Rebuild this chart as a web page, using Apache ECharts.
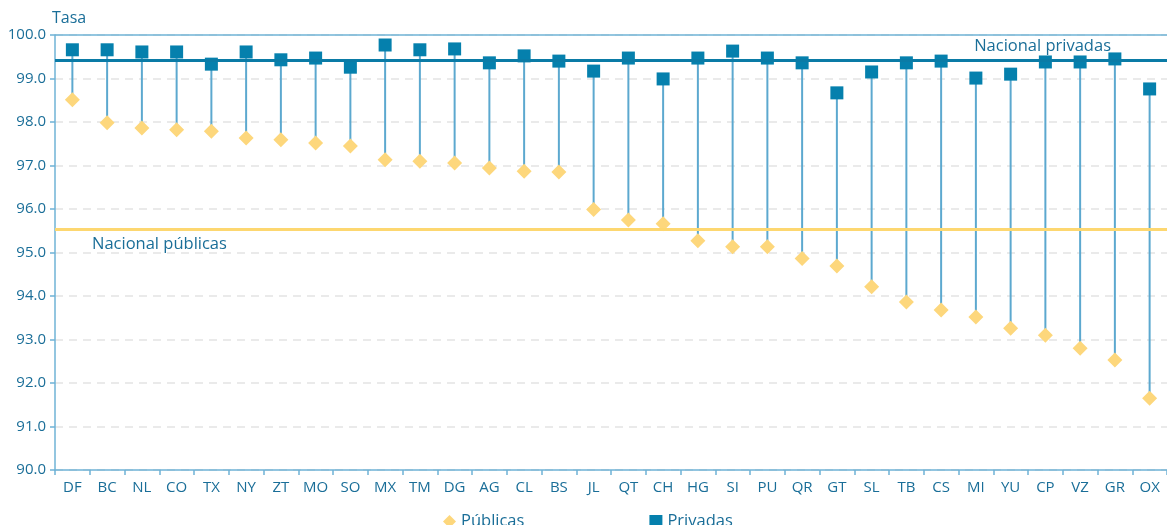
<!DOCTYPE html>
<html>
<head>
<meta charset="utf-8">
<script src="https://cdn.jsdelivr.net/npm/echarts@6/dist/echarts.min.js"></script>
<style>
  html, body { margin: 0; padding: 0; background: #fff; }
  #chart { width: 1167px; height: 525px; }
</style>
</head>
<body>
<div id="chart"></div>
<script>
// Entidades federativas
const categories = ['DF','BC','NL','CO','TX','NY','ZT','MO','SO','MX','TM','DG','AG','CL','BS','JL',
  'QT','CH','HG','SI','PU','QR','GT','SL','TB','CS','MI','YU','CP','VZ','GR','OX'];

// Tasa en escuelas públicas
const publicas = [98.51, 97.98, 97.86, 97.82, 97.79, 97.63, 97.59, 97.52, 97.45, 97.13, 97.10, 97.06,
  96.94, 96.87, 96.85, 95.99, 95.75, 95.66, 95.27, 95.13, 95.13, 94.86, 94.69, 94.21, 93.86, 93.68,
  93.52, 93.26, 93.10, 92.80, 92.53, 91.65];

// Tasa en escuelas privadas
const privadas = [99.66, 99.66, 99.61, 99.61, 99.33, 99.61, 99.43, 99.47, 99.26, 99.77, 99.66, 99.68,
  99.36, 99.52, 99.40, 99.17, 99.47, 98.99, 99.47, 99.63, 99.47, 99.36, 98.67, 99.15, 99.36, 99.40,
  99.01, 99.10, 99.38, 99.38, 99.45, 98.76];

// Promedios nacionales
const nacionalPrivadas = 99.43;
const nacionalPublicas = 95.54;

const yTicks = { min: 90, max: 100, interval: 1 };

const stemData = categories.map((c, i) => [i, privadas[i], publicas[i]]);

const fontFamily = '"Open Sans", "Noto Sans", sans-serif';
const textColor = '#1a6e98';
const axisColor = '#6fb3d6';

const chart = echarts.init(document.getElementById('chart'), null, { renderer: 'canvas' });
chart.setOption({
  animation: false,
  textStyle: { fontFamily: fontFamily },
  grid: { left: 55, top: 35, width: 1122, bottom: 55, containLabel: false },
  legend: {
    left: 438,
    top: 508,
    itemGap: 125,
    itemWidth: 13,
    itemHeight: 13,
    textStyle: { color: textColor, fontSize: 16.5, fontFamily: fontFamily },
    data: [
      { name: 'Públicas', icon: 'diamond' },
      { name: 'Privadas', icon: 'rect' }
    ]
  },
  xAxis: {
    type: 'category',
    data: categories,
    boundaryGap: true,
    axisLine: { lineStyle: { color: axisColor, width: 1.5 } },
    axisTick: { show: true, alignWithLabel: false, length: 5, lineStyle: { color: axisColor, width: 1.5 } },
    axisLabel: { color: textColor, fontSize: 15, margin: 10, interval: 0 }
  },
  yAxis: {
    type: 'value',
    name: 'Tasa',
    nameLocation: 'end',
    nameGap: 9,
    nameTextStyle: { color: textColor, fontSize: 16, align: 'left', padding: [0, 0, 0, -3] },
    min: yTicks.min,
    max: yTicks.max,
    interval: yTicks.interval,
    axisLine: { show: true, lineStyle: { color: axisColor, width: 1.5 } },
    axisTick: { show: true, length: 5, lineStyle: { color: axisColor, width: 1.5 } },
    axisLabel: {
      color: textColor, fontSize: 15, margin: 9,
      formatter: v => v.toFixed(1)
    },
    splitLine: { show: true, lineStyle: { color: '#e4e4e4', type: [8, 6], width: 1.5 } }
  },
  series: [
    {
      // Línea vertical entre las dos tasas de cada entidad
      type: 'custom',
      name: 'stems',
      z: 1,
      silent: true,
      data: stemData,
      encode: { x: 0, y: [1, 2] },
      renderItem: function (params, api) {
        const a = api.coord([api.value(0), api.value(1)]);
        const b = api.coord([api.value(0), api.value(2)]);
        return {
          type: 'line',
          shape: { x1: a[0], y1: a[1], x2: b[0], y2: b[1] },
          style: { stroke: '#5ca8cf', lineWidth: 2 }
        };
      },
      markLine: {
        silent: true,
        symbol: 'none',
        label: { show: false },
        lineStyle: { color: axisColor, type: 'solid', width: 1.5 },
        data: [{ yAxis: 100 }]
      }
    },
    {
      type: 'scatter',
      name: 'Públicas',
      symbol: 'diamond',
      symbolSize: 15,
      z: 3,
      itemStyle: { color: '#fdd77c', opacity: 1 },
      data: publicas,
      markLine: {
        silent: true,
        symbol: 'none',
        lineStyle: { color: '#fdd770', type: 'solid', width: 3 },
        label: {
          show: true,
          position: 'insideStartTop',
          formatter: 'Nacional públicas',
          color: textColor,
          fontSize: 16.5,
          fontFamily: fontFamily,
          distance: [37, -24]
        },
        data: [{ yAxis: nacionalPublicas }]
      }
    },
    {
      type: 'scatter',
      name: 'Privadas',
      symbol: 'rect',
      symbolSize: 13,
      z: 4,
      itemStyle: { color: '#0580ad', opacity: 1 },
      data: privadas,
      markLine: {
        silent: true,
        symbol: 'none',
        lineStyle: { color: '#0a7ba6', type: 'solid', width: 3 },
        label: {
          show: true,
          position: 'insideEndTop',
          formatter: 'Nacional privadas',
          color: textColor,
          fontSize: 16.5,
          fontFamily: fontFamily,
          distance: [56, 5]
        },
        data: [{ yAxis: nacionalPrivadas }]
      }
    }
  ]
});
</script>
</body>
</html>
